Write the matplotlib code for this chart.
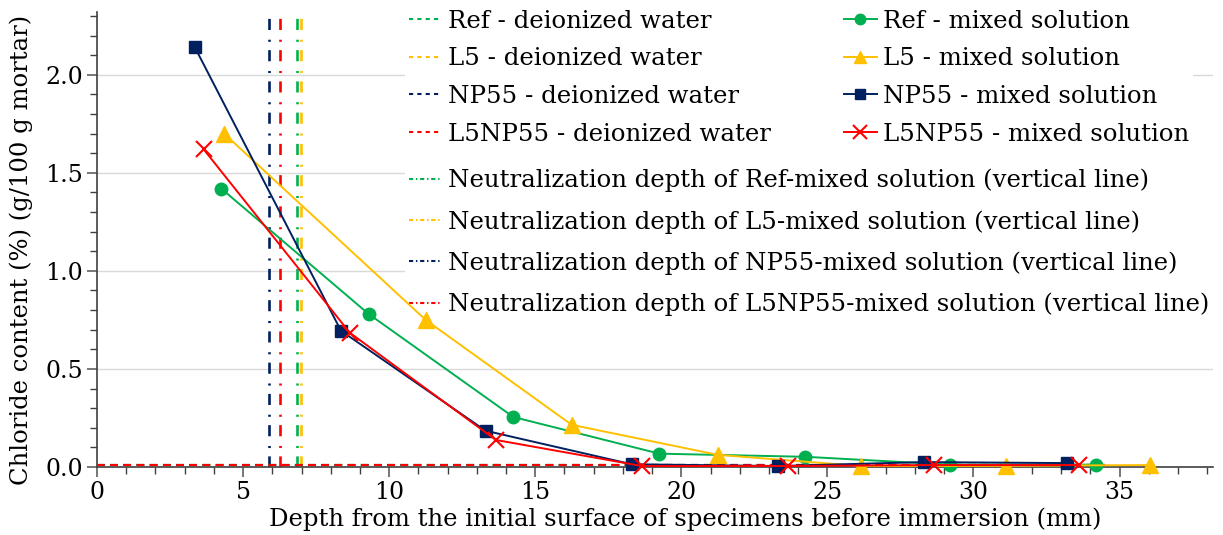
import matplotlib
matplotlib.use("Agg")
import matplotlib.pyplot as plt
from matplotlib.ticker import MultipleLocator
from matplotlib.lines import Line2D

plt.rcParams['font.family'] = ['DejaVu Serif']
plt.rcParams['lines.scale_dashes'] = False

# depth (mm) and chloride content (%)
ref_x = [4.25, 9.3, 14.25, 19.25, 24.25, 29.2, 34.2]
ref_y = [1.42, 0.78, 0.255, 0.068, 0.052, 0.012, 0.012]
l5_x = [4.35, 11.25, 16.25, 21.25, 26.15, 31.1, 36.05]
l5_y = [1.70, 0.75, 0.215, 0.062, 0.005, 0.006, 0.01]
np55_x = [3.35, 8.35, 13.3, 18.3, 23.3, 28.3, 33.2]
np55_y = [2.14, 0.695, 0.185, 0.014, 0.005, 0.025, 0.02]
l5np55_x = [3.65, 8.65, 13.65, 18.65, 23.65, 28.65, 33.6]
l5np55_y = [1.62, 0.685, 0.138, 0.005, 0.005, 0.01, 0.01]

# deionized water series (all sit near zero)
di_x = [0, 5, 10, 15, 20, 25, 30, 34.5]
di_ref = [0.01, 0.01, 0.01, 0.01, 0.01, 0.01, 0.01, 0.01]
di_l5 = [0.01, 0.01, 0.01, 0.01, 0.01, 0.01, 0.01, 0.01]
di_np55 = [0.01, 0.01, 0.01, 0.01, 0.01, 0.01, 0.01, 0.01]
di_l5np55 = [0.012, 0.012, 0.012, 0.012, 0.012, 0.012, 0.012, 0.012]

# neutralization depths (mm)
neut_ref = 6.85
neut_l5 = 6.97
neut_np55 = 5.9
neut_l5np55 = 6.25

names = ['Ref', 'L5', 'NP55', 'L5NP55']
green = '#00B050'
yellow = '#FFC000'
navy = '#002060'
red = '#FF0000'
colors = [green, yellow, navy, red]

W, H = 1223, 535
fig = plt.figure(figsize=(W / 100, H / 100), dpi=100)
ax = fig.add_axes([97 / W, 1 - 467 / H, (1213 - 97) / W, (467 - 12) / H])

dash = (5.5, 4)
dashdot = (8, 6, 1.5, 7)

for yy, c in zip([di_ref, di_l5, di_np55, di_l5np55], colors):
    ax.plot(di_x, yy, color=c, lw=1.5, dashes=dash, zorder=3)

for xv, c in zip([neut_ref, neut_l5, neut_np55, neut_l5np55], colors):
    ax.axvline(xv, color=c, lw=1.9, dashes=dashdot, zorder=2)

ax.plot(ref_x, ref_y, color=green, lw=1.4, marker='o', ms=9, clip_on=False, zorder=4)
ax.plot(l5_x, l5_y, color=yellow, lw=1.4, marker='^', ms=11, clip_on=False, zorder=4)
ax.plot(np55_x, np55_y, color=navy, lw=1.4, marker='s', ms=8.5, clip_on=False, zorder=4)
ax.plot(l5np55_x, l5np55_y, color=red, lw=1.4, marker='x', ms=11, mew=1.5, clip_on=False, zorder=5)

ax.set_xlim(0, 38.2)
ax.set_ylim(0, 2.32)
ax.xaxis.set_major_locator(MultipleLocator(5))
ax.xaxis.set_minor_locator(MultipleLocator(1))
ax.yaxis.set_minor_locator(MultipleLocator(0.1))
ax.set_yticks([0, 0.5, 1.0, 1.5, 2.0])
ax.set_yticklabels(['0.0', '0.5', '1.0', '1.5', '2.0'])

ax.grid(axis='y', which='major', color='#D9D9D9', lw=1)
ax.set_axisbelow(True)
for s in ['top', 'right']:
    ax.spines[s].set_visible(False)
for s in ['left', 'bottom']:
    ax.spines[s].set_color('#404040')
    ax.spines[s].set_linewidth(1.2)
ax.tick_params(which='major', length=7, width=1.2, color='#606060', labelsize=17, pad=3)
ax.tick_params(which='minor', length=5, width=1, color='#404040')

ax.set_xlabel('Depth from the initial surface of specimens before immersion (mm)', fontsize=17.5)
ax.set_ylabel('Chloride content (%) (g/100 g mortar)', fontsize=17.5)
ax.xaxis.set_label_coords(0.527, -0.088)
ax.yaxis.set_label_coords(-0.057, 0.477)

h1 = [Line2D([], [], color=c, lw=1.5, dashes=(3, 3)) for c in colors]
h2 = [Line2D([], [], color=c, lw=1.4, marker=m, ms=ms, mew=mw)
      for c, m, ms, mw in zip(colors, ['o', '^', 's', 'x'], [7.5, 9, 7, 10], [1, 1, 1, 1.5])]
labels1 = [n + ' - deionized water' for n in names]
labels2 = [n + ' - mixed solution' for n in names]

# legends sit over the grid but under the data lines
leg1 = ax.legend(h1 + h2, labels1 + labels2, ncol=2, loc='upper left',
                 bbox_to_anchor=(405 / W, 1 - 6 / H), bbox_transform=fig.transFigure,
                 frameon=True, framealpha=1, edgecolor='none', facecolor='white',
                 fontsize=17.6, handlelength=1.35, handletextpad=0.25, columnspacing=3.0,
                 labelspacing=0.6, borderpad=0.15, borderaxespad=0)
leg1.set_zorder(1)
ax.add_artist(leg1)

h3 = [Line2D([], [], color=c, lw=1.5, dashes=(3, 2, 1, 2)) for c in colors]
labels3 = ['Neutralization depth of ' + n + '-mixed solution (vertical line)' for n in names]
leg2 = ax.legend(h3, labels3, loc='upper left',
                 bbox_to_anchor=(405 / W, 1 - 165 / H), bbox_transform=fig.transFigure,
                 frameon=True, framealpha=1, edgecolor='none', facecolor='white',
                 fontsize=17.6, handlelength=1.35, handletextpad=0.25,
                 labelspacing=0.73, borderpad=0.15, borderaxespad=0)
leg2.set_zorder(1)

fig.savefig('out.png', dpi=100)
